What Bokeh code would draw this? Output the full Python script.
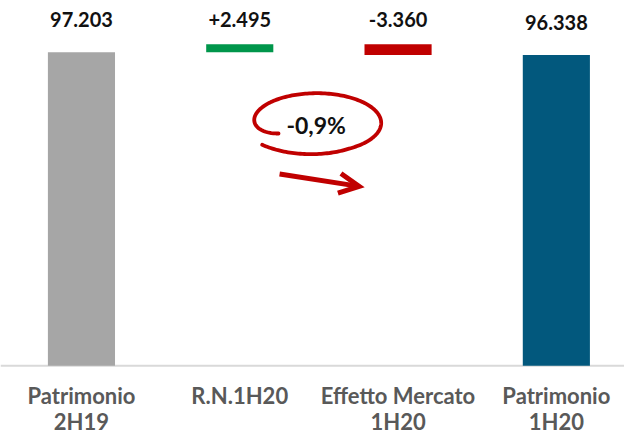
import numpy as np
from bokeh.plotting import figure
from bokeh.models import ColumnDataSource, Range1d, Span, Arrow, OpenHead
from bokeh.core.properties import value
from bokeh.embed import file_html
from bokeh.resources import INLINE

# ---------------- data ----------------
categories = ["Patrimonio\n2H19", "R.N.1H20", "Effetto Mercato\n1H20", "Patrimonio\n1H20"]
values = [97203, 2495, -3360, 96338]
kinds = ["total", "delta", "delta", "total"]
bar_colors = ["#A6A6A6", "#00964B", "#C00000", "#02587D"]


def it_num(n, signed=False):
    s = f"{abs(n):,}".replace(",", ".")
    if signed:
        return ("+" if n >= 0 else "-") + s
    return ("-" if n < 0 else "") + s


# waterfall geometry from the values
xs = list(range(len(categories)))
bottoms, tops, labels = [], [], []
running = 0
for v, k in zip(values, kinds):
    if k == "total":
        b, t = 0, v
        running = v
        labels.append(it_num(v))
    else:
        b, t = running, running + v
        running += v
        labels.append(it_num(v, signed=True))
    bottoms.append(min(b, t))
    tops.append(max(b, t))

pct = (values[-1] - values[0]) / values[0] * 100
pct_label = f"{pct:.1f}".replace(".", ",") + "%"

# ---------------- figure ----------------
p = figure(width=624, height=435,
           x_range=Range1d(-0.5114, 3.4305), y_range=Range1d(-21608, 113247),
           output_backend="svg", toolbar_location=None,
           min_border=0, outline_line_color=None)
p.axis.visible = False
p.grid.visible = False
p.background_fill_color = "white"
p.border_fill_color = "white"

p.add_layout(Span(location=0, dimension="width", line_color="#D9D9D9",
                  line_width=2, level="underlay"))

src = ColumnDataSource(dict(x=xs, bottom=bottoms, top=tops, color=bar_colors,
                            label=labels, kind=kinds))
p.vbar(x="x", width=0.424, bottom="bottom", top="top", fill_color="color",
       line_color=None, source=src)

FONT = value("Lato")

tot_idx = [i for i, k in enumerate(kinds) if k == "total"]
del_idx = [i for i, k in enumerate(kinds) if k == "delta"]
src_tot = ColumnDataSource(dict(x=[xs[i] for i in tot_idx], y=[tops[i] for i in tot_idx],
                                t=[labels[i] for i in tot_idx]))
src_del = ColumnDataSource(dict(x=[xs[i] for i in del_idx], y=[tops[i] for i in del_idx],
                                t=[labels[i] for i in del_idx]))
for s, off in ((src_tot, -32.7), (src_del, -24.7)):
    p.text(x="x", y="y", text="t", source=s, text_align="center",
           text_baseline="alphabetic", y_offset=off, text_font=FONT,
           text_font_style="bold", text_font_size="20px", text_color="#111111")

# category labels (two lines)
line1 = [c.split("\n")[0] for c in categories]
line2 = [c.split("\n")[1] if "\n" in c else "" for c in categories]
for txt, off in ((line1, 29.6), (line2, 55.6)):
    p.text(x=xs, y=[0] * len(xs), text=txt, text_align="center",
           text_baseline="alphabetic", y_offset=off, text_font=FONT,
           text_font_style="bold", text_font_size="22px", text_color="#595959")

# ---------------- annotation: circled change and arrow ----------------
px_x = 158.30      # pixels per category unit
px_y = 0.0032257   # pixels per value unit
cx, cy = 1.486, 75286
a_px, b_px = 64.5, 29.75
th = np.radians(np.linspace(149, 499, 200))
deg = np.degrees(th)
r = 1 - 0.31 * np.exp(-(deg - 149) / 15) + 0.12 * np.clip((deg - 420) / 80, 0, 1)
ex = cx + r * a_px * np.cos(th) / px_x
ey = cy - r * b_px * np.sin(th) / px_y
p.line(ex, ey, line_color="#C00000", line_width=3.8, line_cap="round",
       line_join="round")

p.text(x=[1.4826], y=[71634], text=[pct_label], text_align="center",
       text_baseline="alphabetic", y_offset=-9.4, text_font=FONT,
       text_font_style="bold", text_font_size="23px", text_color="#111111")

p.add_layout(Arrow(end=OpenHead(size=20, line_width=5, line_color="#C00000",
                                line_join="miter"),
                   x_start=1.2517, y_start=59460, x_end=1.7545, y_end=55616,
                   line_width=5, line_color="#C00000"))

open("out.html", "w").write(file_html(p, INLINE))
